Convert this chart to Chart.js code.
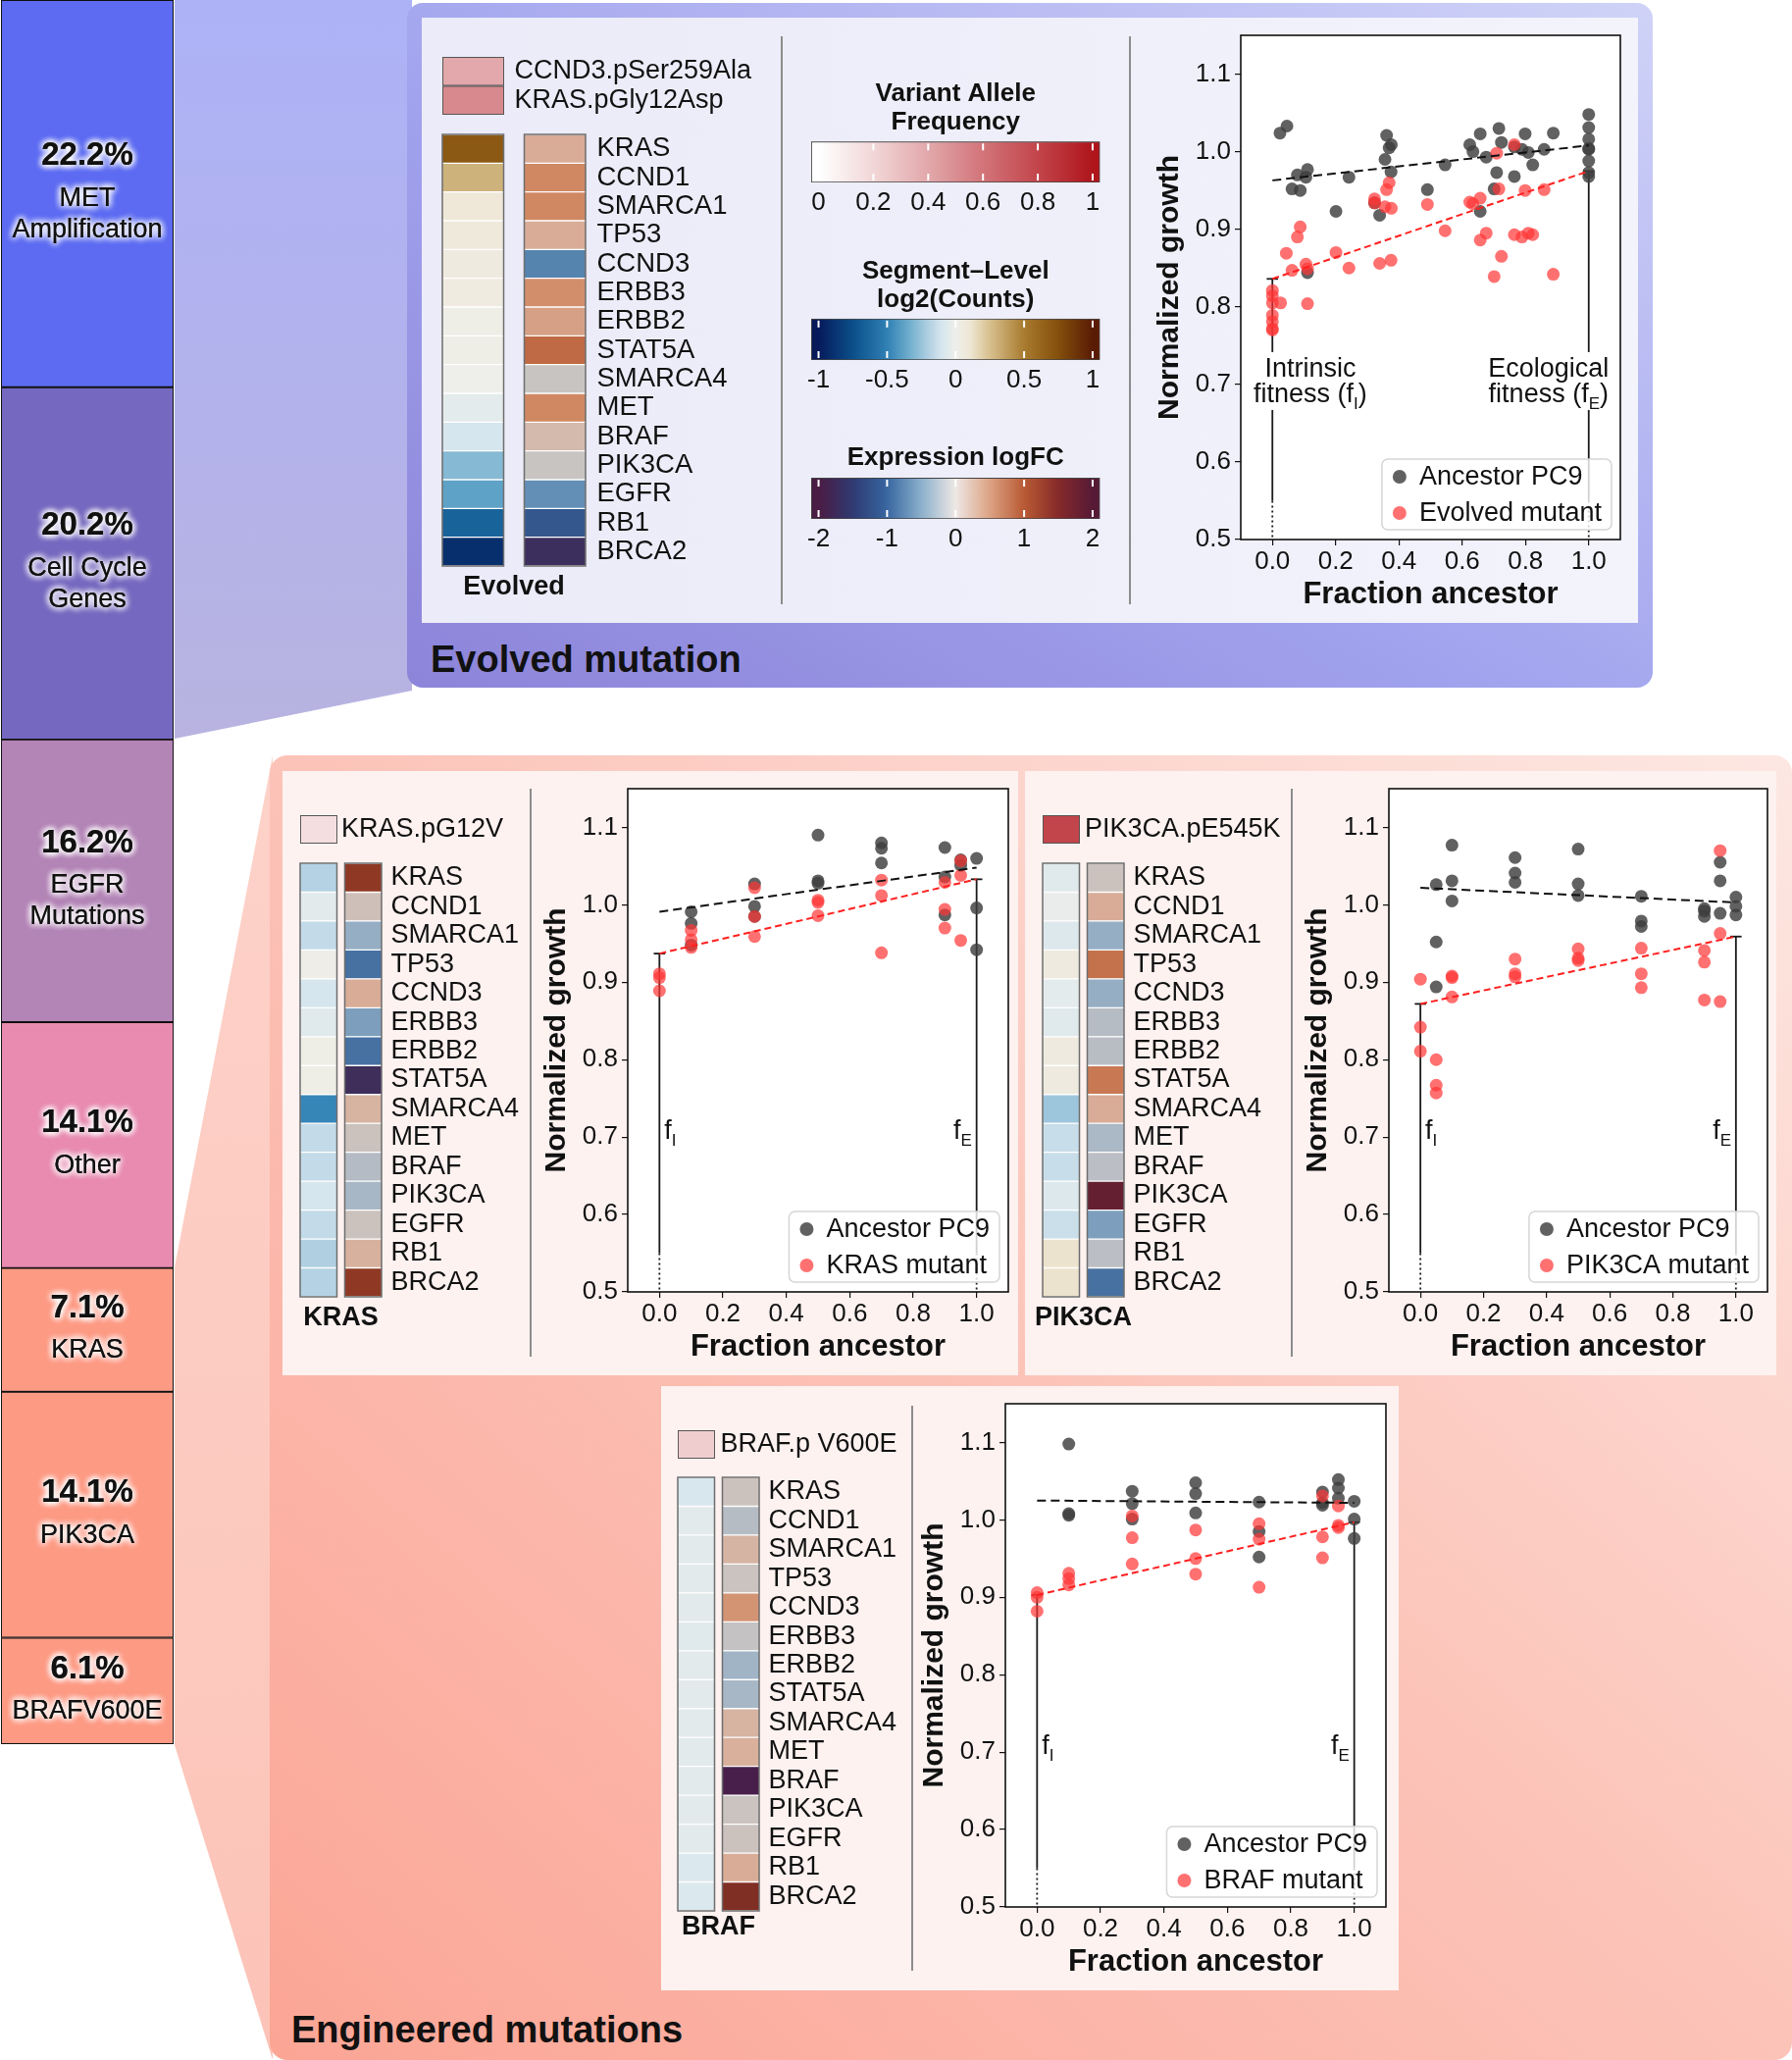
<!DOCTYPE html>
<html lang="en">
<head>
<meta charset="utf-8">
<title>Evolved and engineered mutations</title>
<script src="https://cdn.jsdelivr.net/npm/chart.js@4.4.1/dist/chart.umd.min.js"></script>
<style>
	html, body { margin: 0; padding: 0; background: #fff; }
	#page { position: relative; width: 1827px; height: 2100px; overflow: hidden; font-family: "Liberation Sans", Arial, Helvetica, sans-serif; color: #111; }
	#page div { position: absolute; }
	.wedge-top { left: 178px; top: 0; width: 242px; height: 760px; clip-path: polygon(0 0, 100% 0, 100% 704px, 0 753px); background: linear-gradient(180deg, #adb2f7 0%, #b3b2ea 60%, #b8b3df 100%); }
	.panel-top { left: 415px; top: 3px; width: 1270px; height: 698px; border-radius: 16px; background: linear-gradient(to top right, #8c84d9 0%, #a2a4ee 45%, #d0d3f7 100%); }
	.inner-top { left: 430px; top: 18px; width: 1240px; height: 617px; background: linear-gradient(to right, #ebebf9, #f3f3fc); }
	.wedge-bottom { left: 178px; top: 770px; width: 100px; height: 1330px; clip-path: polygon(0 522px, 100% 0, 100% 100%, 0 1009px); background: linear-gradient(180deg, #fdd2c9, #fcc3b8); }
	.panel-bottom { left: 275px; top: 770px; width: 1552px; height: 1330px; border-radius: 18px; background: linear-gradient(to top right, #fba595 0%, #fcc3b8 50%, #fde7e2 100%); }
	.box { background: #fdf2f0; }
	.sep { width: 2px; background: #8c8c8c; }
	.title { font-weight: bold; font-size: 38px; line-height: 44px; white-space: nowrap; }
</style>
</head>
<body>
<div id="page">
	<div class="wedge-top"></div>
	<div class="wedge-bottom"></div>
	<div class="panel-top"></div>
	<div class="inner-top"></div>
	<div class="panel-bottom"></div>
	<div class="box" style="left:288px;top:786px;width:750px;height:616px"></div>
	<div class="box" style="left:1045px;top:786px;width:766px;height:616px"></div>
	<div class="box" style="left:674px;top:1413px;width:752px;height:616px"></div>
	<div class="sep" style="left:796px;top:37px;height:579px"></div>
	<div class="sep" style="left:1151px;top:37px;height:579px"></div>
	<div class="sep" style="left:540px;top:804px;height:579px"></div>
	<div class="sep" style="left:1316px;top:804px;height:579px"></div>
	<div class="sep" style="left:929px;top:1433px;height:576px"></div>
	<div class="title" style="left:439px;top:650px">Evolved mutation</div>
	<div class="title" style="left:297px;top:2047px">Engineered mutations</div>
</div>
<script>
// share of resistance mechanisms (left column)
const shareNames = [['MET', 'Amplification'], ['Cell Cycle', 'Genes'], ['EGFR', 'Mutations'], ['Other'], ['KRAS'], ['PIK3CA'], ['BRAFV600E']];
const sharePct = [22.2, 20.2, 16.2, 14.1, 7.1, 14.1, 6.1];

// heatmaps: copy number (log2 counts) and expression logFC per gene
const genes = ['KRAS', 'CCND1', 'SMARCA1', 'TP53', 'CCND3', 'ERBB3', 'ERBB2', 'STAT5A', 'SMARCA4', 'MET', 'BRAF', 'PIK3CA', 'EGFR', 'RB1', 'BRCA2'];
const evoCNA = [0.70, 0.30, 0.10, 0.08, 0.06, 0.05, 0.02, 0.02, 0.00, -0.04, -0.10, -0.29, -0.38, -0.65, -0.90];
const evoFC = [0.45, 0.80, 0.80, 0.45, -0.85, 0.75, 0.60, 1.00, 0.00, 0.80, 0.25, 0.00, -0.75, -1.20, -1.60];
const krasCNA = [-0.19, -0.05, -0.15, 0.01, -0.10, -0.06, 0.02, 0.02, -0.48, -0.15, -0.15, -0.10, -0.15, -0.20, -0.19];
const krasFC = [1.45, 0.12, -0.45, -1.00, 0.45, -0.60, -1.00, -1.65, 0.35, 0.06, -0.22, -0.32, 0.06, 0.38, 1.45];
const pikCNA = [-0.06, -0.02, -0.07, 0.06, -0.04, -0.06, 0.06, 0.06, -0.24, -0.14, -0.14, -0.07, -0.13, 0.12, 0.12];
const pikFC = [0.05, 0.45, -0.45, 0.95, -0.45, -0.20, -0.18, 0.90, 0.45, -0.30, -0.15, 1.90, -0.60, -0.15, -1.00];
const brafCNA = [-0.09, -0.05, -0.05, -0.05, -0.05, -0.06, -0.05, -0.05, -0.05, -0.05, -0.05, -0.05, -0.05, -0.08, -0.08];
const brafFC = [0.06, -0.20, 0.33, 0.03, 0.70, -0.05, -0.38, -0.32, 0.35, 0.40, -1.95, 0.03, 0.05, 0.45, 1.60];

// mutations and their variant allele frequency
const evoMuts = ['CCND3.pSer259Ala', 'KRAS.pGly12Asp'];
const evoVAF = [0.40, 0.52];
const krasMuts = ['KRAS.pG12V'];
const krasVAF = [0.16];
const pikMuts = ['PIK3CA.pE545K'];
const pikVAF = [0.80];
const brafMuts = ['BRAF.p V600E'];
const brafVAF = [0.24];

// tick labels
const vafTicks = [0, 0.2, 0.4, 0.6, 0.8, 1];
const cnaTicks = [-1, -0.5, 0, 0.5, 1];
const fcTicks = [-2, -1, 0, 1, 2];
const fracTicks = [0, 0.2, 0.4, 0.6, 0.8, 1.0];
const growthTicks = [0.5, 0.6, 0.7, 0.8, 0.9, 1.0, 1.1];

// growth vs fraction ancestor: evolved mutant
const evoAncX = [0.024, 0.046, 0.062, 0.079, 0.088, 0.106, 0.111, 0.111, 0.201, 0.242, 0.323, 0.339, 0.361, 0.356, 0.369, 0.376, 0.375, 0.490, 0.546, 0.624, 0.634, 0.657, 0.657, 0.676, 0.701, 0.709, 0.716, 0.724, 0.765, 0.765, 0.789, 0.799, 0.809, 0.823, 0.859, 0.888, 1, 1, 1, 1, 1, 1, 1, 1];
const evoAncY = [1.024, 1.033, 0.952, 0.970, 0.950, 0.967, 0.977, 0.844, 0.923, 0.967, 0.934, 0.918, 1.021, 0.990, 1.005, 1.009, 0.974, 0.951, 0.983, 1.009, 1.000, 1.023, 0.923, 0.993, 0.952, 0.973, 1.030, 1.012, 0.968, 1.006, 1.003, 1.023, 0.999, 0.983, 1.003, 1.024, 1.048, 1.031, 1.016, 1.004, 1.003, 0.988, 0.973, 0.968];
const evoMutX = [0, 0, 0, 0, 0, 0, 0, 0.026, 0.044, 0.062, 0.079, 0.088, 0.106, 0.111, 0.111, 0.201, 0.242, 0.323, 0.323, 0.339, 0.361, 0.369, 0.356, 0.376, 0.375, 0.490, 0.546, 0.624, 0.634, 0.657, 0.657, 0.676, 0.701, 0.709, 0.716, 0.724, 0.765, 0.765, 0.789, 0.799, 0.809, 0.823, 0.859, 0.888];
const evoMutY = [0.821, 0.814, 0.805, 0.789, 0.781, 0.772, 0.770, 0.805, 0.869, 0.847, 0.890, 0.903, 0.855, 0.849, 0.804, 0.870, 0.850, 0.939, 0.934, 0.856, 0.951, 0.960, 0.929, 0.927, 0.860, 0.932, 0.898, 0.935, 0.933, 0.940, 0.886, 0.895, 0.839, 0.998, 0.952, 0.865, 1.009, 0.893, 0.890, 0.950, 0.895, 0.893, 0.951, 0.842];
const evoAncFit = [0.963, 1.008];
const evoMutFit = [0.836, 0.975];

// KRAS mutant
const krasAncX = [0.1, 0.1, 0.1, 0.3, 0.3, 0.3, 0.5, 0.5, 0.5, 0.7, 0.7, 0.7, 0.9, 0.9, 0.9, 0.95, 0.95, 1, 1, 1];
const krasAncY = [0.991, 0.976, 0.948, 1.027, 0.998, 0.985, 1.090, 1.031, 1.028, 1.080, 1.073, 1.054, 1.074, 1.036, 0.987, 1.058, 1.051, 1.060, 0.996, 0.942];
const krasMutX = [0, 0, 0, 0.1, 0.1, 0.1, 0.3, 0.3, 0.3, 0.5, 0.5, 0.5, 0.7, 0.7, 0.7, 0.9, 0.9, 0.9, 0.95, 0.95, 0.95];
const krasMutY = [0.911, 0.906, 0.889, 0.967, 0.955, 0.945, 1.022, 0.985, 0.959, 1.006, 1.003, 0.986, 1.032, 1.012, 0.938, 1.029, 0.994, 0.970, 1.057, 1.038, 0.954];
const krasAncFit = [0.991, 1.048];
const krasMutFit = [0.937, 1.033];

// PIK3CA mutant
const pikAncX = [0.05, 0.05, 0.05, 0.1, 0.1, 0.1, 0.3, 0.3, 0.3, 0.5, 0.5, 0.5, 0.7, 0.7, 0.7, 0.9, 0.9, 0.9, 0.95, 0.95, 0.95, 1, 1, 1];
const pikAncY = [1.026, 0.952, 0.894, 1.077, 1.031, 1.005, 1.061, 1.041, 1.029, 1.072, 1.027, 1.012, 1.011, 0.979, 0.972, 0.995, 0.992, 0.985, 1.055, 1.031, 0.989, 1.010, 0.998, 0.987];
const pikMutX = [0, 0, 0, 0.05, 0.05, 0.05, 0.1, 0.1, 0.1, 0.3, 0.3, 0.3, 0.5, 0.5, 0.5, 0.7, 0.7, 0.7, 0.9, 0.9, 0.9, 0.95, 0.95, 0.95];
const pikMutY = [0.904, 0.842, 0.811, 0.800, 0.767, 0.757, 0.908, 0.906, 0.881, 0.930, 0.911, 0.907, 0.943, 0.931, 0.928, 0.944, 0.911, 0.893, 0.941, 0.926, 0.877, 1.070, 0.963, 0.875];
const pikAncFit = [1.022, 1.003];
const pikMutFit = [0.872, 0.959];

// BRAF mutant
const brafAncX = [0.1, 0.1, 0.1, 0.3, 0.3, 0.3, 0.5, 0.5, 0.5, 0.7, 0.7, 0.7, 0.9, 0.9, 0.9, 0.95, 0.95, 0.95, 1, 1, 1];
const brafAncY = [1.098, 1.008, 1.006, 1.037, 1.021, 1.001, 1.048, 1.034, 1.009, 1.023, 0.985, 0.952, 1.036, 1.022, 1.019, 1.052, 1.041, 1.028, 1.024, 1.001, 0.976];
const brafMutX = [0, 0, 0, 0.1, 0.1, 0.1, 0.3, 0.3, 0.3, 0.5, 0.5, 0.5, 0.7, 0.7, 0.7, 0.9, 0.9, 0.9, 0.95, 0.95, 0.95];
const brafMutY = [0.906, 0.900, 0.882, 0.931, 0.924, 0.916, 1.005, 0.977, 0.943, 0.987, 0.950, 0.930, 0.995, 0.975, 0.913, 1.031, 0.978, 0.951, 1.018, 0.993, 0.990];
const brafAncFit = [1.025, 1.022];
const brafMutFit = [0.903, 0.997];

// palettes
var FONT = '"Liberation Sans", Arial, Helvetica, sans-serif';
var shareColors = ['#5c6bf2', '#7568c0', '#b384b6', '#e98bb0', '#fd9a84', '#fd9a84', '#fd9a84'];
var ANC = 'rgba(62,62,62,0.82)';
var MUT = 'rgba(255,52,52,0.70)';
var cnaStops = [[-1, '#061a5a'], [-0.75, '#0b4f8a'], [-0.5, '#2f80b5'], [-0.35, '#6aaacb'], [-0.2, '#b0d0e2'], [-0.1, '#d6e6ee'], [0, '#eeeeea'], [0.1, '#efe8d8'], [0.25, '#d8c08e'], [0.5, '#a87b2e'], [0.75, '#84500c'], [1, '#5a1b05']];
var fcCellStops = [[-2, '#4a1d48'], [-1.6, '#3d2f5d'], [-1.2, '#34588e'], [-0.8, '#5a8ab4'], [-0.4, '#9fb3c6'], [-0.2, '#b6bcc4'], [0, '#c8c4c2'], [0.2, '#d2bcb2'], [0.4, '#d8b09c'], [0.6, '#d6a086'], [0.8, '#d08862'], [1, '#bf6a45'], [1.5, '#8a3420'], [2, '#5a1a35']];
var fcBarStops = [[-2, '#4b1c44'], [-1.5, '#2f3a72'], [-1, '#3766a0'], [-0.5, '#8cb0cc'], [0, '#eee8e4'], [0.5, '#dca283'], [1, '#b85a33'], [1.5, '#862a2a'], [2, '#561a36']];
var vafStops = [[0, '#ffffff'], [0.2, '#f2d6d7'], [0.4, '#e2a8ab'], [0.6, '#d27479'], [0.8, '#c2454b'], [1, '#b0151c']];

Chart.defaults.font.family = FONT;
Chart.defaults.color = '#111';
Chart.defaults.animation = false;
Chart.defaults.plugins.legend.display = false;
Chart.defaults.plugins.tooltip.enabled = false;

var cmap = function (stops) {
	var rgb = stops.map(function (s) {
		return [s[0], parseInt(s[1].slice(1, 3), 16), parseInt(s[1].slice(3, 5), 16), parseInt(s[1].slice(5, 7), 16)];
	});
	return function (v) {
		var a = rgb[0], b = rgb[0], t = 0;
		if (v > rgb[rgb.length - 1][0]) {
			a = b = rgb[rgb.length - 1];
		} else if (v > rgb[0][0]) {
			for (var i = 1; i < rgb.length; i++) {
				if (v <= rgb[i][0]) {
					a = rgb[i - 1]; b = rgb[i];
					t = (v - a[0]) / (b[0] - a[0]);
					break;
				}
			}
		}
		return 'rgb(' + [1, 2, 3].map(function (k) { return Math.round(a[k] + (b[k] - a[k]) * t); }).join(',') + ')';
	};
};
var cnaColor = cmap(cnaStops);
var fcCellColor = cmap(fcCellStops);
var fcBarColor = cmap(fcBarStops);
var vafColor = cmap(vafStops);

var addCanvas = function (left, top, w, h) {
	var c = document.createElement('canvas');
	w = Math.round(w); h = Math.round(h);
	c.width = w;
	c.height = h;
	c.style.cssText = 'position:absolute;left:' + Math.round(left) + 'px;top:' + Math.round(top) + 'px;width:' + w + 'px;height:' + h + 'px';
	document.getElementById('page').appendChild(c);
	return c;
};

// tick labels must not push the plot area around
var noPad = function (s) {
	s.paddingTop = 0;
	s.paddingBottom = 0;
	s.paddingLeft = 0;
	s.paddingRight = 0;
};

var pts = function (xs, ys) {
	return xs.map(function (x, i) { return { x: x, y: ys[i] }; });
};

var seg = function (ctx, x1, y1, x2, y2) {
	ctx.beginPath();
	ctx.moveTo(x1, y1);
	ctx.lineTo(x2, y2);
	ctx.stroke();
};

// ---------- left share column ----------
var shareLabels = {
	id: 'shareLabels',
	afterDatasetsDraw: function (chart) {
		var ctx = chart.ctx;
		ctx.save();
		ctx.textAlign = 'center';
		ctx.textBaseline = 'middle';
		ctx.fillStyle = '#111';
		ctx.shadowColor = '#fff';
		ctx.shadowBlur = 7;
		chart.data.datasets.forEach(function (ds, i) {
			var bar = chart.getDatasetMeta(i).data[0];
			var cy = (bar.y + bar.base) / 2;
			var lines = [[sharePct[i].toFixed(1) + '%', 'bold 33px ']].concat(shareNames[i].map(function (n) { return [n, '27px ']; }));
			var offs = lines.length === 3 ? [-38, 5, 37] : [-22, 21];
			lines.forEach(function (l, k) {
				ctx.font = l[1] + FONT;
				for (var r = 0; r < 4; r++) {
					ctx.fillText(l[0], bar.x, cy + offs[k]);
				}
			});
		});
		ctx.restore();
	}
};

var drawShare = function () {
	var cv = addCanvas(0, 0, 178, 1780);
	new Chart(cv, {
		type: 'bar',
		data: {
			labels: [''],
			datasets: sharePct.map(function (p, i) {
				return { data: [p], backgroundColor: shareColors[i], borderColor: '#111', borderWidth: 1.3, borderSkipped: false };
			})
		},
		options: {
			responsive: false,
			layout: { padding: { left: 1, right: 1, top: 0, bottom: 2 } },
			datasets: { bar: { barPercentage: 1, categoryPercentage: 1 } },
			scales: {
				x: { display: false, stacked: true },
				y: { display: false, stacked: true, reverse: true, min: 0, max: 100 }
			}
		},
		plugins: [shareLabels]
	});
};

// ---------- heatmaps ----------
var columnFrame = {
	id: 'columnFrame',
	afterDatasetsDraw: function (chart) {
		var ctx = chart.ctx;
		ctx.save();
		ctx.strokeStyle = '#6e6e6e';
		ctx.lineWidth = 1.5;
		chart.data.datasets.forEach(function (ds, i) {
			var els = chart.getDatasetMeta(i).data;
			var l = Infinity, r = -Infinity, t = Infinity, b = -Infinity;
			els.forEach(function (el) {
				l = Math.min(l, el.x, el.base);
				r = Math.max(r, el.x, el.base);
				t = Math.min(t, el.y - el.height / 2);
				b = Math.max(b, el.y + el.height / 2);
			});
			ctx.strokeRect(l, t, r - l, b - t);
		});
		ctx.restore();
	}
};

var caption = function (text, gap) {
	return {
		id: 'caption',
		afterDraw: function (chart) {
			var a = chart.chartArea, ctx = chart.ctx;
			ctx.save();
			ctx.font = 'bold 27px ' + FONT;
			ctx.fillStyle = '#111';
			ctx.textAlign = 'center';
			ctx.textBaseline = 'middle';
			ctx.fillText(text, (a.left + a.right) / 2, a.bottom + gap);
			ctx.restore();
		}
	};
};

var drawHeatmap = function (o) {
	var areaW = o.colW * 2 + o.gap;
	var areaH = o.rowH * genes.length;
	var leftW = 24, rightW = 170, bottomH = 45;
	var g = o.gap / o.colW;
	var cv = addCanvas(o.left - leftW, o.top - 4, areaW + leftW + rightW, areaH + 4 + bottomH);
	new Chart(cv, {
		type: 'bar',
		data: {
			labels: genes,
			datasets: [
				{ data: genes.map(function () { return [0, 1]; }), backgroundColor: o.cna.map(cnaColor) },
				{ data: genes.map(function () { return [1 + g, 2 + g]; }), backgroundColor: o.fc.map(fcCellColor) }
			]
		},
		options: {
			responsive: false,
			indexAxis: 'y',
			layout: { padding: { left: leftW, top: 4, bottom: bottomH } },
			datasets: { bar: { barPercentage: 1, categoryPercentage: 1, grouped: false, borderColor: '#fff', borderWidth: { top: 1, bottom: 1, left: 0, right: 0 }, borderSkipped: false } },
			scales: {
				x: { display: false, min: 0, max: 2 + g },
				y: {
					position: 'right',
					ticks: { autoSkip: false, padding: o.labelGap, font: { size: o.geneFont } },
					grid: { display: false, drawTicks: false },
					border: { display: false },
					afterFit: function (s) { s.width = rightW; noPad(s); }
				}
			}
		},
		plugins: [columnFrame, caption(o.caption, o.capGap)]
	});
};

var drawMutations = function (o) {
	var areaH = o.rowH * o.names.length;
	var rightW = 300;
	var cv = addCanvas(o.left - 4, o.top - 4, o.colW + 4 + rightW, areaH + 8);
	new Chart(cv, {
		type: 'bar',
		data: {
			labels: o.names,
			datasets: [{ data: o.names.map(function () { return [0, 1]; }), backgroundColor: o.vaf.map(vafColor), borderColor: '#555', borderWidth: 1.3, borderSkipped: false }]
		},
		options: {
			responsive: false,
			indexAxis: 'y',
			layout: { padding: { left: 4, top: 4, bottom: 4 } },
			datasets: { bar: { barPercentage: 1, categoryPercentage: 1 } },
			scales: {
				x: { display: false, min: 0, max: 1 },
				y: {
					position: 'right',
					ticks: { autoSkip: false, padding: o.labelGap, font: { size: 27 } },
					grid: { display: false, drawTicks: false },
					border: { display: false },
					afterFit: function (s) { s.width = rightW; noPad(s); }
				}
			}
		}
	});
};

// ---------- colour bars ----------
var barTicks = {
	id: 'barTicks',
	afterDatasetsDraw: function (chart) {
		var ctx = chart.ctx, a = chart.chartArea, xs = chart.scales.x;
		ctx.save();
		ctx.strokeStyle = '#fff';
		ctx.lineWidth = 2;
		xs.ticks.forEach(function (t) {
			var px = xs.getPixelForValue(t.value);
			seg(ctx, px, a.top + 2, px, a.top + 9);
			seg(ctx, px, a.bottom - 9, px, a.bottom - 2);
		});
		ctx.restore();
	}
};

var drawColorbar = function (o) {
	var lo = o.ticks[0], hi = o.ticks[o.ticks.length - 1];
	var ext = (hi - lo) * 0.027;
	var min = lo - ext, max = hi + ext;
	var cv = addCanvas(800, o.top, 348, o.height);
	new Chart(cv, {
		type: 'bar',
		data: {
			labels: [''],
			datasets: [{
				data: [[min, max]],
				backgroundColor: function (c) {
					var a = c.chart.chartArea;
					if (!a) return '#ccc';
					var grad = c.chart.ctx.createLinearGradient(a.left, 0, a.right, 0);
					for (var i = 0; i <= 40; i++) {
						grad.addColorStop(i / 40, o.cmap(min + (max - min) * i / 40));
					}
					return grad;
				},
				borderColor: '#444', borderWidth: 1.2, borderSkipped: false
			}]
		},
		options: {
			responsive: false,
			indexAxis: 'y',
			layout: { padding: { left: 27, right: 26.5 } },
			plugins: { title: { display: true, text: o.title, color: '#111', font: { size: 26, weight: 'bold', lineHeight: 1.09 }, padding: { top: 0, bottom: o.padB } } },
			datasets: { bar: { barPercentage: 1, categoryPercentage: 1 } },
			scales: {
				x: {
					min: min, max: max,
					afterBuildTicks: function (s) { s.ticks = o.ticks.map(function (v) { return { value: v }; }); },
					ticks: { padding: 5, font: { size: 26 }, autoSkip: false, maxRotation: 0, callback: function (v) { return String(v); } },
					grid: { display: false, drawTicks: false },
					border: { display: false },
					afterFit: function (s) { s.height = 40; noPad(s); }
				},
				y: { display: false }
			}
		},
		plugins: [barTicks]
	});
};

// ---------- growth scatter plots ----------
var richWidth = function (ctx, parts) {
	var w = 0;
	parts.forEach(function (p) {
		ctx.font = (p.sub ? '17px ' : '27px ') + FONT;
		w += ctx.measureText(p.t).width;
	});
	return w;
};

var drawRich = function (ctx, parts, x, y, align) {
	var w = richWidth(ctx, parts);
	var sx = align === 'center' ? x - w / 2 : (align === 'right' ? x - w : x);
	ctx.textAlign = 'left';
	ctx.textBaseline = 'alphabetic';
	parts.forEach(function (p) {
		ctx.font = (p.sub ? '17px ' : '27px ') + FONT;
		ctx.fillText(p.t, sx, y + (p.sub ? 7 : 0));
		sx += ctx.measureText(p.t).width;
	});
};

var growthDecor = function (o) {
	return {
		id: 'growthDecor',
		beforeDraw: function (chart) {
			var a = chart.chartArea, ctx = chart.ctx;
			ctx.save();
			ctx.fillStyle = '#fff';
			ctx.fillRect(a.left, a.top, a.right - a.left, a.bottom - a.top);
			ctx.restore();
		},
		beforeDatasetsDraw: function (chart) {
			var ctx = chart.ctx, xs = chart.scales.x, ys = chart.scales.y;
			ctx.save();
			ctx.strokeStyle = '#1a1a1a';
			ctx.lineWidth = 1.8;
			[[0, o.mutFit[0]], [1, o.mutFit[1]]].forEach(function (p) {
				var px = xs.getPixelForValue(p[0]);
				var top = ys.getPixelForValue(p[1]);
				var mid = ys.getPixelForValue(0.55);
				var bot = ys.getPixelForValue(0.5);
				ctx.setLineDash([]);
				seg(ctx, px, top, px, mid);
				seg(ctx, xs.getPixelForValue(p[0] - 0.018), top, xs.getPixelForValue(p[0] + 0.018), top);
				ctx.setLineDash([2, 3]);
				seg(ctx, px, mid, px, bot);
			});
			ctx.restore();
		},
		afterDatasetsDraw: function (chart) {
			var ctx = chart.ctx, xs = chart.scales.x, ys = chart.scales.y, a = chart.chartArea;
			ctx.save();
			ctx.fillStyle = '#111';
			if (o.longNotes) {
				[[0.12, 'Intrinsic', 'I'], [0.873, 'Ecological', 'E']].forEach(function (n) {
					var cx = xs.getPixelForValue(n[0]);
					var b1 = ys.getPixelForValue(0.71), b2 = b1 + 26;
					var l1 = [{ t: n[1] }];
					var l2 = [{ t: 'fitness (f' }, { t: n[2], sub: true }, { t: ')' }];
					var w = Math.max(richWidth(ctx, l1), richWidth(ctx, l2));
					ctx.fillStyle = '#fff';
					ctx.fillRect(cx - w / 2 - 2, b1 - 25, w + 4, b2 - b1 + 33);
					ctx.fillStyle = '#111';
					drawRich(ctx, l1, cx, b1, 'center');
					drawRich(ctx, l2, cx, b2, 'center');
				});
			} else {
				var b = ys.getPixelForValue(0.698);
				drawRich(ctx, [{ t: 'f' }, { t: 'I', sub: true }], xs.getPixelForValue(0.015), b, 'left');
				drawRich(ctx, [{ t: 'f' }, { t: 'E', sub: true }], xs.getPixelForValue(0.985), b, 'right');
			}

			// legend box inside the plot
			var labels = [chart.data.datasets[0].label, chart.data.datasets[1].label];
			var colors = [ANC, MUT];
			ctx.font = '27px ' + FONT;
			var tw = Math.max(ctx.measureText(labels[0]).width, ctx.measureText(labels[1]).width);
			var bw = 38 + tw + 10, bh = 72;
			var bx = a.right - 9 - bw, by = a.bottom - 10 - bh;
			ctx.beginPath();
			ctx.roundRect(bx, by, bw, bh, 6);
			ctx.fillStyle = 'rgba(255,255,255,0.8)';
			ctx.fill();
			ctx.strokeStyle = '#d6d6d6';
			ctx.lineWidth = 1.5;
			ctx.stroke();
			ctx.textAlign = 'left';
			ctx.textBaseline = 'middle';
			labels.forEach(function (l, i) {
				var ry = by + 18 + i * 37;
				ctx.beginPath();
				ctx.arc(bx + 18, ry, 7, 0, Math.PI * 2);
				ctx.fillStyle = colors[i];
				ctx.fill();
				ctx.fillStyle = '#111';
				ctx.fillText(l, bx + 38, ry + 1);
			});
			ctx.restore();
		},
		afterDraw: function (chart) {
			var a = chart.chartArea, ctx = chart.ctx;
			ctx.save();
			ctx.strokeStyle = '#111';
			ctx.lineWidth = 1.6;
			ctx.strokeRect(a.left, a.top, a.right - a.left, a.bottom - a.top);
			ctx.restore();
		}
	};
};

var drawGrowth = function (o) {
	var yW = 105, xH = 80, padT = 12, padR = 12;
	var a = o.area;
	var cv = addCanvas(a[0] - yW, a[1] - padT, yW + (a[2] - a[0]) + padR, padT + (a[3] - a[1]) + xH);
	var tickGrid = { drawOnChartArea: false, drawTicks: true, tickLength: 6, color: '#111', lineWidth: 1.2 };
	new Chart(cv, {
		type: 'scatter',
		data: {
			datasets: [
				{ label: 'Ancestor PC9', data: pts(o.ancX, o.ancY), backgroundColor: ANC, pointBackgroundColor: ANC, pointBorderWidth: 0, pointRadius: 6.5, order: 2 },
				{ label: o.mutLabel, data: pts(o.mutX, o.mutY), backgroundColor: MUT, pointBackgroundColor: MUT, pointBorderWidth: 0, pointRadius: 6.5, order: 1 },
				{ label: 'ancestor fit', data: pts([0, 1], o.ancFit), showLine: true, borderColor: '#111', borderWidth: 2, borderDash: [9, 5], pointRadius: 0, order: 0 },
				{ label: 'mutant fit', data: pts([0, 1], o.mutFit), showLine: true, borderColor: '#ff2020', borderWidth: 2, borderDash: [7, 4], pointRadius: 0, order: 0 }
			]
		},
		options: {
			responsive: false,
			layout: { padding: { left: 0, top: padT, right: padR, bottom: 0 } },
			scales: {
				x: {
					type: 'linear', min: -0.1, max: 1.1,
					afterBuildTicks: function (s) { s.ticks = fracTicks.map(function (v) { return { value: v }; }); },
					ticks: { font: { size: 26 }, padding: 1, autoSkip: false, maxRotation: 0, callback: function (v) { return v.toFixed(1); } },
					grid: tickGrid,
					border: { display: false },
					title: { display: true, text: 'Fraction ancestor', font: { size: 31, weight: 'bold' }, padding: { top: 0, bottom: 5 } },
					afterFit: function (s) { s.height = xH; noPad(s); }
				},
				y: {
					type: 'linear', min: 0.5, max: 1.15,
					afterBuildTicks: function (s) { s.ticks = growthTicks.map(function (v) { return { value: v }; }); },
					ticks: { font: { size: 26 }, padding: 4, autoSkip: false, callback: function (v) { return v.toFixed(1); } },
					grid: tickGrid,
					border: { display: false },
					title: { display: true, text: 'Normalized growth', font: { size: 30, weight: 'bold' }, padding: { top: 15, bottom: 0 } },
					afterFit: function (s) { s.width = yW; noPad(s); }
				}
			}
		},
		plugins: [growthDecor(o)]
	});
};

// ---------- build ----------
drawShare();

drawMutations({ left: 451, top: 57.7, colW: 62.5, rowH: 29.35, names: evoMuts, vaf: evoVAF, labelGap: 10.5 });
drawHeatmap({ left: 451, top: 137, colW: 62.5, gap: 21, rowH: 29.35, cna: evoCNA, fc: evoFC, caption: 'Evolved', geneFont: 27.5, labelGap: 11.5, capGap: 21.5 });

drawColorbar({ top: 82, height: 144, title: ['Variant Allele', 'Frequency'], ticks: vafTicks, cmap: vafColor, padB: 5.6 });
drawColorbar({ top: 263, height: 144, title: ['Segment\u2013Level', 'log2(Counts)'], ticks: cnaTicks, cmap: cnaColor, padB: 5.1 });
drawColorbar({ top: 453, height: 116, title: 'Expression logFC', ticks: fcTicks, cmap: fcBarColor, padB: 5.7 });

drawGrowth({ area: [1265, 36, 1652, 550], ancX: evoAncX, ancY: evoAncY, mutX: evoMutX, mutY: evoMutY, ancFit: evoAncFit, mutFit: evoMutFit, mutLabel: 'Evolved mutant', longNotes: true });

drawMutations({ left: 306, top: 831, colW: 37.5, rowH: 29, names: krasMuts, vaf: krasVAF, labelGap: 4 });
drawHeatmap({ left: 306, top: 880, colW: 37.5, gap: 8, rowH: 29.45, cna: krasCNA, fc: krasFC, caption: 'KRAS', geneFont: 27, labelGap: 9.5, capGap: 21.6 });
drawGrowth({ area: [640, 804, 1028, 1317], ancX: krasAncX, ancY: krasAncY, mutX: krasMutX, mutY: krasMutY, ancFit: krasAncFit, mutFit: krasMutFit, mutLabel: 'KRAS mutant', longNotes: false });

drawMutations({ left: 1063, top: 831, colW: 37.5, rowH: 29, names: pikMuts, vaf: pikVAF, labelGap: 5 });
drawHeatmap({ left: 1063, top: 880, colW: 37.5, gap: 8, rowH: 29.45, cna: pikCNA, fc: pikFC, caption: 'PIK3CA', geneFont: 27, labelGap: 9.5, capGap: 21.6 });
drawGrowth({ area: [1416, 804, 1802, 1317], ancX: pikAncX, ancY: pikAncY, mutX: pikMutX, mutY: pikMutY, ancFit: pikAncFit, mutFit: pikMutFit, mutLabel: 'PIK3CA mutant', longNotes: false });

drawMutations({ left: 691, top: 1458, colW: 37.5, rowH: 29, names: brafMuts, vaf: brafVAF, labelGap: 5.5 });
drawHeatmap({ left: 691, top: 1506, colW: 37.5, gap: 8, rowH: 29.47, cna: brafCNA, fc: brafFC, caption: 'BRAF', geneFont: 27, labelGap: 9.5, capGap: 17 });
drawGrowth({ area: [1025, 1431, 1413, 1944], ancX: brafAncX, ancY: brafAncY, mutX: brafMutX, mutY: brafMutY, ancFit: brafAncFit, mutFit: brafMutFit, mutLabel: 'BRAF mutant', longNotes: false });
</script>
</body>
</html>
